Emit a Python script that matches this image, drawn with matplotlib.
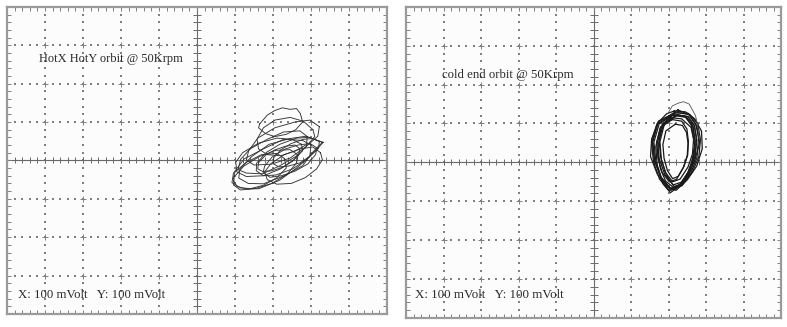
import numpy as np
import matplotlib
matplotlib.use("Agg")
import matplotlib.pyplot as plt

# orbit traces, in screen divisions (x: -5..5, y: -4..4)
# left screen: hot end X/Y orbit
hot_x = [
    [3.30, 2.87, 2.45, 1.90, 1.44, 1.13, 1.10, 1.35, 1.75, 2.30, 2.78, 3.05],
    [2.90, 2.71, 2.28, 1.85, 1.40, 1.15, 1.08, 1.30, 1.72, 2.16, 2.60, 2.88],
    [3.32, 2.95, 2.62, 2.18, 1.83, 1.57, 1.56, 1.75, 2.08, 2.52, 2.86, 3.14],
    [3.00, 2.78, 2.28, 1.77, 1.24, 0.96, 0.92, 1.15, 1.62, 2.17, 2.62, 2.97],
    [3.22, 2.97, 2.58, 2.05, 1.60, 1.36, 1.30, 1.50, 1.95, 2.45, 2.86, 3.18],
    [1.65, 1.85, 2.05, 2.25, 2.45, 2.62, 2.72, 2.78, 2.60, 2.35, 2.05, 1.80, 1.62],
    [3.16, 2.98, 2.66, 2.33, 1.98, 1.78, 1.74, 1.92, 2.22, 2.58, 2.92, 3.12],
    [2.66, 2.45, 2.07, 1.64, 1.23, 0.98, 0.96, 1.14, 1.52, 1.97, 2.37, 2.62],
    [2.70, 2.58, 2.33, 2.04, 1.80, 1.62, 1.60, 1.73, 1.97, 2.26, 2.52, 2.68],
    [3.22, 3.05, 2.80, 2.48, 2.21, 2.02, 2.00, 2.15, 2.40, 2.72, 3.00, 3.20],
    [3.05, 2.80, 2.45, 2.05, 1.75, 1.58, 1.62, 1.85, 2.20, 2.60, 2.95, 3.10],
    [2.75, 2.50, 2.10, 1.62, 1.20, 1.02, 1.05, 1.30, 1.75, 2.20, 2.55, 2.78],
    [3.25, 3.05, 2.72, 2.30, 1.95, 1.78, 1.85, 2.10, 2.48, 2.85, 3.15, 3.30],
    [2.30, 2.10, 1.70, 1.30, 1.00, 0.95, 1.05, 1.35, 1.75, 2.10, 2.35],
]
hot_y = [
    [0.47, 0.63, 0.57, 0.42, 0.10, -0.22, -0.46, -0.60, -0.61, -0.40, -0.14, 0.22],
    [0.62, 0.77, 0.74, 0.55, 0.30, 0.03, -0.24, -0.33, -0.35, -0.15, 0.10, 0.36],
    [0.47, 0.60, 0.58, 0.42, 0.21, -0.07, -0.27, -0.40, -0.38, -0.22, 0.01, 0.27],
    [0.40, 0.52, 0.55, 0.31, 0.04, -0.33, -0.58, -0.72, -0.74, -0.52, -0.20, 0.10],
    [0.88, 1.05, 1.00, 0.85, 0.58, 0.25, 0.02, -0.12, -0.10, 0.06, 0.35, 0.63],
    [0.95, 1.18, 1.30, 1.37, 1.33, 1.35, 1.22, 1.00, 0.80, 0.68, 0.62, 0.70, 0.85],
    [0.32, 0.44, 0.40, 0.30, 0.09, -0.15, -0.32, -0.44, -0.40, -0.28, -0.09, 0.15],
    [0.14, 0.28, 0.26, 0.10, -0.15, -0.43, -0.64, -0.77, -0.74, -0.60, -0.36, -0.07],
    [0.31, 0.40, 0.37, 0.27, 0.13, -0.06, -0.22, -0.29, -0.27, -0.18, -0.02, 0.16],
    [0.49, 0.57, 0.55, 0.44, 0.28, 0.07, -0.08, -0.17, -0.15, -0.06, 0.13, 0.32],
    [0.80, 1.02, 1.12, 1.05, 0.85, 0.55, 0.30, 0.15, 0.12, 0.25, 0.45, 0.62],
    [0.42, 0.55, 0.58, 0.45, 0.20, -0.05, -0.30, -0.42, -0.40, -0.22, 0.02, 0.25],
    [0.20, 0.35, 0.30, 0.15, -0.08, -0.30, -0.50, -0.62, -0.60, -0.45, -0.22, 0.02],
    [0.05, 0.18, 0.15, -0.05, -0.30, -0.50, -0.68, -0.75, -0.65, -0.45, -0.20],
]

# right screen: cold end orbit
cold_x = [
    [2.18, 2.53, 2.73, 2.80, 2.76, 2.60, 2.33, 2.06, 1.80, 1.63, 1.58, 1.73],
    [2.15, 2.47, 2.65, 2.71, 2.67, 2.53, 2.29, 2.04, 1.81, 1.66, 1.61, 1.75],
    [2.22, 2.52, 2.69, 2.75, 2.71, 2.58, 2.35, 2.12, 1.90, 1.75, 1.71, 1.84],
    [2.12, 2.45, 2.64, 2.71, 2.67, 2.52, 2.26, 2.01, 1.76, 1.60, 1.55, 1.69],
    [2.20, 2.46, 2.61, 2.67, 2.64, 2.52, 2.31, 2.11, 1.91, 1.79, 1.75, 1.86],
    [2.25, 2.53, 2.69, 2.75, 2.71, 2.59, 2.37, 2.15, 1.95, 1.81, 1.77, 1.89],
    [2.10, 2.35, 2.49, 2.53, 2.51, 2.39, 2.21, 2.02, 1.83, 1.72, 1.68, 1.79],
    [2.18, 2.37, 2.48, 2.52, 2.50, 2.41, 2.26, 2.11, 1.97, 1.88, 1.85, 1.93],
    [2.20, 2.57, 2.78, 2.85, 2.81, 2.64, 2.36, 2.07, 1.80, 1.62, 1.57, 1.73],
    [2.15, 2.45, 2.70, 2.88, 2.90, 2.75, 2.50, 2.20, 1.95, 1.70, 1.52, 1.55, 1.70, 1.95],
    [2.05, 2.35, 2.60, 2.70, 2.62, 2.48, 2.28, 2.05, 1.85, 1.70, 1.66, 1.78],
    [2.25, 2.55, 2.76, 2.83, 2.70, 2.55, 2.40, 2.15, 1.92, 1.78, 1.70, 1.80, 2.00],
]
cold_y = [
    [1.28, 1.26, 0.98, 0.62, 0.13, -0.27, -0.60, -0.72, -0.42, 0.06, 0.53, 1.06],
    [1.23, 1.18, 0.95, 0.57, 0.14, -0.24, -0.59, -0.67, -0.39, 0.04, 0.52, 0.99],
    [1.22, 1.18, 0.95, 0.59, 0.19, -0.18, -0.51, -0.58, -0.31, 0.10, 0.55, 1.00],
    [1.22, 1.17, 0.93, 0.54, 0.10, -0.28, -0.64, -0.72, -0.43, 0.01, 0.49, 0.98],
    [1.20, 1.16, 0.95, 0.61, 0.22, -0.12, -0.43, -0.50, -0.25, 0.14, 0.56, 0.99],
    [1.22, 1.17, 0.94, 0.58, 0.16, -0.21, -0.55, -0.62, -0.34, 0.07, 0.53, 0.99],
    [1.10, 1.06, 0.86, 0.54, 0.18, -0.14, -0.44, -0.50, -0.26, 0.10, 0.50, 0.90],
    [0.98, 0.95, 0.77, 0.49, 0.18, -0.11, -0.36, -0.42, -0.21, 0.11, 0.46, 0.81],
    [1.28, 1.23, 0.99, 0.59, 0.15, -0.24, -0.60, -0.68, -0.39, 0.05, 0.55, 1.04],
    [1.32, 1.30, 1.12, 0.80, 0.35, -0.10, -0.45, -0.72, -0.62, -0.30, 0.15, 0.60, 1.00, 1.25],
    [1.15, 1.12, 0.90, 0.45, 0.00, -0.35, -0.62, -0.78, -0.55, -0.10, 0.40, 0.90],
    [1.35, 1.22, 0.92, 0.50, 0.05, -0.30, -0.50, -0.66, -0.48, -0.15, 0.30, 0.80, 1.18],
]
# the open spur above the cold end orbit
spur_x = [1.98, 2.10, 2.25, 2.40, 2.55, 2.62, 2.72, 2.78, 2.82]
spur_y = [1.25, 1.45, 1.52, 1.56, 1.50, 1.38, 1.20, 0.95, 0.60]

titles = ["HotX HotY orbit @ 50Krpm", "cold end orbit @ 50Krpm"]
title_pos = [(-4.15, 2.65), (-4.05, 2.25)]
title_size = [9, 9.2]
scale_text = "X: 100 mVolt   Y: 100 mVolt"
scale_pos = [(-4.7, -3.5), (-4.75, -3.4)]
scale_size = [9.2, 9.4]


def draw_screen(ax):
    ax.set_xlim(-5, 5)
    ax.set_ylim(-4, 4)
    ax.set_facecolor("#fcfcfc")
    ax.set_xticks([])
    ax.set_yticks([])
    for s in ax.spines.values():
        s.set_color("#9a9a9a")
        s.set_linewidth(1.6)
    minor = np.arange(-5, 5.001, 0.2)
    minor_y = np.arange(-4, 4.001, 0.2)
    gc = "#808080"
    # dotted major graticule
    for gx in range(-4, 5):
        if gx == 0:
            continue
        ax.plot(np.full_like(minor_y, gx), minor_y, ls="none", marker="s",
                ms=1.9, mew=0, color=gc, zorder=1)
        ax.plot([gx] * 7, range(-3, 4), ls="none", marker="+", ms=4,
                mew=0.7, color=gc, zorder=1)
    for gy in range(-3, 4):
        if gy == 0:
            continue
        ax.plot(minor, np.full_like(minor, gy), ls="none", marker="s",
                ms=1.9, mew=0, color=gc, zorder=1)
    # centre axes with small ticks
    ac = "#6a6a6a"
    ax.axhline(0, color=ac, lw=0.8, zorder=1)
    ax.axvline(0, color=ac, lw=0.8, zorder=1)
    ax.plot(minor, np.zeros_like(minor), ls="none", marker="|", ms=5, mew=0.7, color=ac, zorder=1)
    ax.plot(np.zeros_like(minor_y), minor_y, ls="none", marker="_", ms=6, mew=0.7, color=ac, zorder=1)
    # edge ticks
    ax.plot(minor, np.full_like(minor, -4), ls="none", marker="|", ms=6, mew=0.7, color=gc)
    ax.plot(minor, np.full_like(minor, 4), ls="none", marker="|", ms=6, mew=0.7, color=gc)
    ax.plot(np.full_like(minor_y, -5), minor_y, ls="none", marker="_", ms=6, mew=0.7, color=gc)
    ax.plot(np.full_like(minor_y, 5), minor_y, ls="none", marker="_", ms=6, mew=0.7, color=gc)


fig = plt.figure(figsize=(7.87, 3.27), dpi=100)
ax1 = fig.add_axes([0.0089, 0.040, 0.4828, 0.939])
ax2 = fig.add_axes([0.5159, 0.028, 0.4765, 0.951])

for i, ax in enumerate([ax1, ax2]):
    draw_screen(ax)
    ax.text(title_pos[i][0], title_pos[i][1], titles[i], family="Liberation Serif",
            fontsize=title_size[i], color="#2a2a2a", va="center", ha="left", zorder=3)
    ax.text(scale_pos[i][0], scale_pos[i][1], scale_text, family="Liberation Serif",
            fontsize=scale_size[i], color="#2a2a2a", va="center", ha="left", zorder=3)

for xs, ys in zip(hot_x, hot_y):
    ax1.plot(xs + xs[:1], ys + ys[:1], color="#333333", lw=0.65, zorder=2)
for xs, ys in zip(cold_x, cold_y):
    ax2.plot(xs + xs[:1], ys + ys[:1], color="#1a1a1a", lw=0.9, zorder=2)
ax2.plot(spur_x, spur_y, color="#555555", lw=0.6, zorder=2)

fig.savefig("out.png", dpi=100, facecolor="white")
